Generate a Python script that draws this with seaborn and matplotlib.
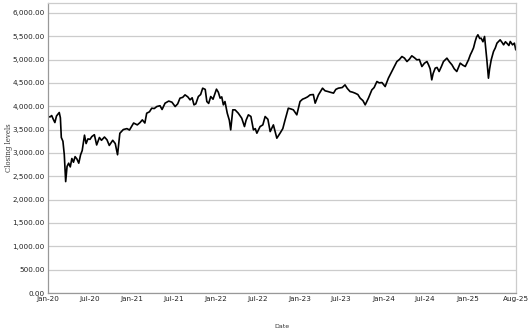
import matplotlib
matplotlib.use("Agg")
import matplotlib.pyplot as plt
import matplotlib.dates as mdates
import matplotlib.ticker as mticker
import seaborn as sns
import pandas as pd

dates = [
    "2020-01-02", "2020-01-10", "2020-01-17", "2020-01-24", "2020-01-31", "2020-02-07",
    "2020-02-19", "2020-02-24", "2020-02-28", "2020-03-06", "2020-03-12", "2020-03-18",
    "2020-03-24", "2020-03-31", "2020-04-07", "2020-04-14", "2020-04-21", "2020-04-28",
    "2020-05-06", "2020-05-14", "2020-05-22", "2020-05-29", "2020-06-08", "2020-06-15",
    "2020-06-23", "2020-07-02", "2020-07-10", "2020-07-21", "2020-07-31", "2020-08-12",
    "2020-08-21", "2020-09-03", "2020-09-14", "2020-09-24", "2020-10-09", "2020-10-20",
    "2020-10-30", "2020-11-09", "2020-11-24", "2020-12-10", "2020-12-21", "2021-01-08",
    "2021-01-24", "2021-02-05", "2021-02-15", "2021-02-26", "2021-03-06", "2021-03-18",
    "2021-03-28", "2021-04-08", "2021-04-19", "2021-05-03", "2021-05-12", "2021-05-25",
    "2021-06-10", "2021-06-24", "2021-07-08", "2021-07-19", "2021-07-29", "2021-08-10",
    "2021-08-20", "2021-09-01", "2021-09-11", "2021-09-20", "2021-09-28", "2021-10-06",
    "2021-10-17", "2021-10-27", "2021-11-05", "2021-11-16", "2021-11-23", "2021-12-01",
    "2021-12-10", "2021-12-20", "2022-01-04", "2022-01-12", "2022-01-20", "2022-01-27",
    "2022-02-03", "2022-02-10", "2022-02-20", "2022-03-01", "2022-03-07", "2022-03-16",
    "2022-03-26", "2022-04-09", "2022-04-24", "2022-05-06", "2022-05-13", "2022-05-23",
    "2022-06-03", "2022-06-14", "2022-06-22", "2022-06-29", "2022-07-13", "2022-07-25",
    "2022-08-04", "2022-08-16", "2022-08-26", "2022-09-09", "2022-09-24", "2022-10-08",
    "2022-10-20", "2022-10-30", "2022-11-13", "2022-11-25", "2022-12-05", "2022-12-20",
    "2023-01-03", "2023-01-14", "2023-01-25", "2023-02-05", "2023-02-16", "2023-03-02",
    "2023-03-10", "2023-03-24", "2023-04-11", "2023-04-22", "2023-05-04", "2023-05-14",
    "2023-05-29", "2023-06-08", "2023-06-19", "2023-07-06", "2023-07-18", "2023-07-28",
    "2023-08-09", "2023-08-20", "2023-08-31", "2023-09-12", "2023-09-22", "2023-10-04",
    "2023-10-14", "2023-10-28", "2023-11-12", "2023-11-22", "2023-12-04", "2023-12-14",
    "2023-12-26", "2024-01-09", "2024-01-23", "2024-02-07", "2024-02-18", "2024-02-29",
    "2024-03-11", "2024-03-22", "2024-04-02", "2024-04-13", "2024-04-24", "2024-05-04",
    "2024-05-15", "2024-05-26", "2024-06-06", "2024-06-17", "2024-06-28", "2024-07-09",
    "2024-07-16", "2024-07-23", "2024-07-30", "2024-08-05", "2024-08-14", "2024-08-22",
    "2024-08-31", "2024-09-10", "2024-09-19", "2024-10-04", "2024-10-15", "2024-10-26",
    "2024-11-05", "2024-11-16", "2024-12-01", "2024-12-12", "2024-12-23", "2025-01-06",
    "2025-01-14", "2025-01-21", "2025-01-28", "2025-02-04", "2025-02-10", "2025-02-16",
    "2025-02-24", "2025-03-02", "2025-03-10", "2025-03-17", "2025-03-27", "2025-04-03",
    "2025-04-08", "2025-04-15", "2025-04-25", "2025-05-03", "2025-05-10", "2025-05-24",
    "2025-06-02", "2025-06-08", "2025-06-16", "2025-06-22", "2025-07-01", "2025-07-07",
    "2025-07-17", "2025-07-25", "2025-07-31",
]

closing = [
    3780, 3770, 3800, 3720, 3650, 3790,
    3865, 3750, 3330, 3250, 2960, 2385,
    2710, 2780, 2700, 2880, 2800, 2920,
    2870, 2780, 2960, 3050, 3380, 3200,
    3300, 3290, 3350, 3390, 3170, 3330,
    3270, 3340, 3280, 3160, 3270, 3200,
    2960, 3420, 3500, 3520, 3490, 3640,
    3600, 3650, 3707, 3640, 3850, 3880,
    3957, 3950, 3993, 4010, 3930, 4065,
    4110, 4086, 3993, 4050, 4172, 4190,
    4243, 4200, 4136, 4180, 4029, 4050,
    4207, 4250, 4386, 4360, 4100, 4060,
    4207, 4150, 4365, 4300, 4172, 4200,
    4029, 4100, 3850, 3700, 3493, 3922,
    3922, 3850, 3744, 3564, 3700, 3815,
    3780, 3493, 3520, 3422, 3564, 3600,
    3779, 3720, 3457, 3600, 3315, 3422,
    3520, 3707, 3957, 3940, 3922, 3815,
    4100, 4150, 4172, 4200, 4243, 4250,
    4065, 4240, 4386, 4330, 4315, 4300,
    4280, 4360, 4386, 4400, 4457, 4380,
    4314, 4300, 4279, 4250, 4172, 4120,
    4029, 4172, 4350, 4400, 4529, 4500,
    4507, 4421, 4600, 4743, 4850, 4957,
    5000, 5064, 5030, 4957, 5010, 5079,
    5040, 4993, 5000, 4850, 4920, 4957,
    4886, 4800, 4564, 4700, 4815, 4830,
    4743, 4850, 4957, 5029, 4950, 4886,
    4800, 4743, 4922, 4880, 4850, 4993,
    5100, 5171, 5250, 5386, 5480, 5529,
    5450, 5457, 5380, 5493, 4993, 4600,
    4800, 4993, 5171, 5250, 5350, 5421,
    5360, 5314, 5380, 5350, 5300, 5386,
    5314, 5350, 5207,
]

df = pd.DataFrame({"Date": pd.to_datetime(dates), "Closing levels": closing})

sns.set_theme(style="white")
plt.rcParams["font.family"] = ["DejaVu Sans"]

fig = plt.figure(figsize=(5.28, 3.36), dpi=100)
ax = fig.add_axes([48 / 528, 43 / 336, 468 / 528, 290 / 336])

sns.lineplot(data=df, x="Date", y="Closing levels", ax=ax, color="black", linewidth=1.2)

ax.set_xlim(pd.Timestamp("2020-01-01"), pd.Timestamp("2025-08-01"))
ax.set_ylim(0, 6210)

ticks = pd.to_datetime(["2020-01-01", "2020-07-01", "2021-01-01", "2021-07-01", "2022-01-01",
                        "2022-07-01", "2023-01-01", "2023-07-01", "2024-01-01", "2024-07-01",
                        "2025-01-01", "2025-08-01"])
ax.set_xticks(ticks)
ax.xaxis.set_major_formatter(mdates.DateFormatter("%b-%y"))
ax.set_yticks(range(0, 6001, 500))
ax.yaxis.set_major_formatter(mticker.FuncFormatter(lambda v, p: f"{v:,.2f}"))

ax.grid(axis="y", color="#cccccc", linewidth=0.9)
ax.grid(axis="x", visible=False)
ax.tick_params(axis="both", length=0, labelsize=5.2, labelcolor="#222222", pad=2.5)

for side in ["left", "bottom"]:
    ax.spines[side].set_color("#999999")
    ax.spines[side].set_linewidth(0.9)
for side in ["top", "right"]:
    ax.spines[side].set_color("#cccccc")
    ax.spines[side].set_linewidth(0.9)

ax.set_xlabel("")
ax.set_ylabel("")
fig.text(9 / 528, 1 - 148 / 336, "Closing levels", rotation=90, ha="center", va="center",
         fontsize=5, family="DejaVu Serif", color="#333333")
fig.text(282 / 528, 1 - 326 / 336, "Date", ha="center", va="center", fontsize=4.5,
         color="#333333")

fig.savefig("out.png", dpi=100)
